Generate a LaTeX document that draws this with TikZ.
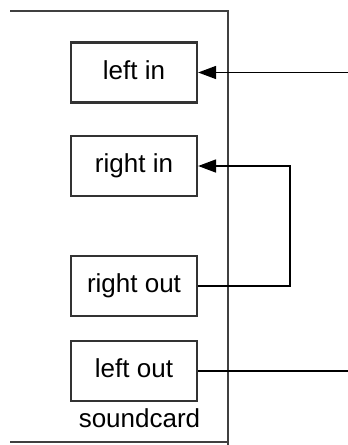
\documentclass[tikz,border=0pt]{standalone}
\usepackage{fontspec}
\setmainfont{Liberation Sans}
\usetikzlibrary{arrows.meta}
\begin{document}
\begin{tikzpicture}[x=1pt,y=-1pt,
  port/.style={draw=black!80, line width=2.2pt, minimum width=126pt, minimum height=60pt,
    inner sep=0pt, font=\fontsize{26}{30}\selectfont, text height=18pt, text depth=5pt},
  wire/.style={draw=black, line width=1.6pt},
  arr/.style={wire, -{Triangle[length=18pt,width=13pt]}}]
\useasboundingbox (0,0) rectangle (348,445);
% soundcard outline
\draw[draw=black!75, line width=2.4pt] (10,11) -- (228,11) -- (228,445);
\draw[draw=black!75, line width=2.4pt] (10,442) -- (228,442);
\node[port] (leftin) at (134,72.5) {left in};
\node[port] (rightin) at (134,166) {right in};
\node[port] (rightout) at (134,286) {right out};
\node[port] (leftout) at (134,371) {left out};
\node[font=\fontsize{26}{30}\selectfont, anchor=base, inner sep=0pt] (label) at (139.5,427) {soundcard};
% connectors
\coordinate (inL) at (348,72.5);
\coordinate (outL) at (348,371);
\coordinate (loop) at (290,0);
\draw[arr] (inL) -- (leftin.east);
\draw[arr] (rightout.east) -- (rightout.east -| loop) -- (rightin.east -| loop) -- (rightin.east);
\draw[wire] (leftout.east) -- (outL);
\end{tikzpicture}
\end{document}
